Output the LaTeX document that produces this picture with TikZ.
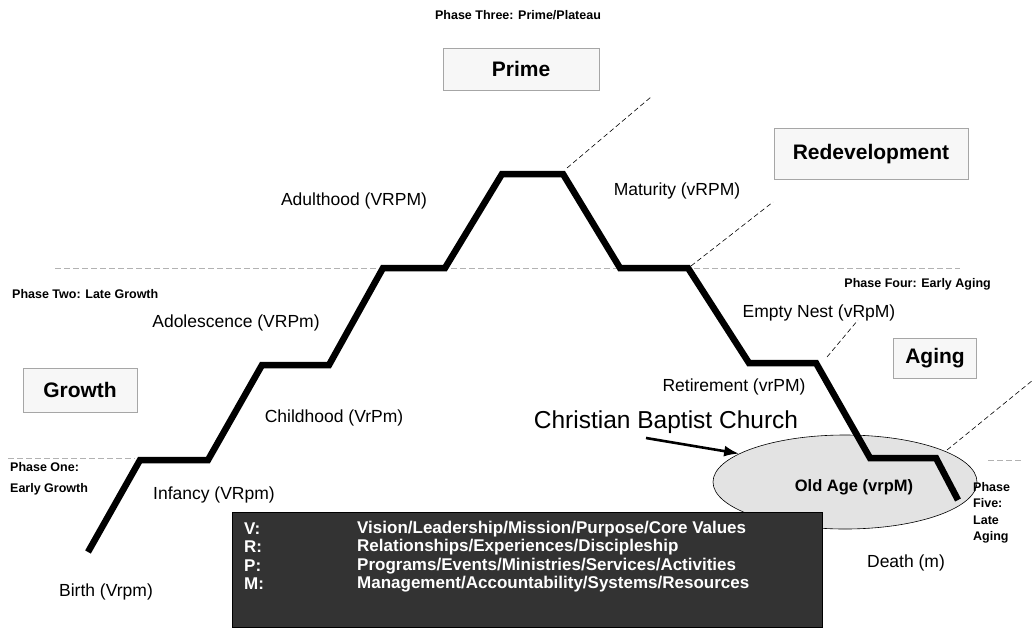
\documentclass[tikz,border=0pt]{standalone}
\usepackage{fontspec}
\setmainfont{Liberation Sans}
\usetikzlibrary{shapes.geometric,arrows.meta}
\tikzset{
 lbl/.style={font=\fontsize{17.5}{20}\selectfont, inner sep=0pt},
 phase/.style={font=\bfseries\fontsize{12.5}{16.5}\selectfont, inner sep=0pt, align=left},
 stagebox/.style={draw=gray!70, fill=gray!6, line width=0.7pt, inner sep=0pt, font=\bfseries\fontsize{21}{24}\selectfont},
 lifeline/.style={line width=6.5pt, line join=miter},
 guide/.style={dash pattern=on 5pt off 3pt, line width=0.6pt},
 sep/.style={gray!60, line width=0.8pt, dash pattern=on 6pt off 3pt},
 keytext/.style={text=white, inner sep=0pt, anchor=west, font=\bfseries\fontsize{17}{19}\selectfont}
}
\begin{document}
\begin{tikzpicture}[x=1pt,y=-1pt]
\useasboundingbox (0,0) rectangle (1035,627);
% separators
\coordinate (s1a) at (55,268); \coordinate (s1b) at (960,268);
\coordinate (s2a) at (8,458); \coordinate (s2b) at (135,458);
\coordinate (s3a) at (988,460); \coordinate (s3b) at (1022,460);
\draw[sep] (s1a) -- (s1b);
\draw[sep] (s2a) -- (s2b);
\draw[sep] (s3a) -- (s3b);
% ellipse
\node[ellipse, draw=black, line width=0.6pt, fill=gray!22, minimum width=264pt, minimum height=94pt, inner sep=0pt] (oldell) at (845,482) {};
% life curve
\coordinate (c0) at (88,552);
\coordinate (c1) at (140,460);
\coordinate (c2) at (208,460);
\coordinate (c3) at (262,365);
\coordinate (c4) at (329,365);
\coordinate (c5) at (383,268);
\coordinate (c6) at (445,268);
\coordinate (c7) at (502,174);
\coordinate (c8) at (563,174);
\coordinate (c9) at (620,268);
\coordinate (c10) at (688,268);
\coordinate (c11) at (749,363);
\coordinate (c12) at (816,363);
\coordinate (c13) at (870,458);
\coordinate (c14) at (936,458);
\coordinate (c15) at (958,500);
\draw[lifeline] (c0) -- (c1) -- (c2) -- (c3) -- (c4) -- (c5) -- (c6) -- (c7) -- (c8) -- (c9) -- (c10) -- (c11) -- (c12) -- (c13) -- (c14) -- (c15);
% dashed guides
\coordinate (g1) at (651,97);
\coordinate (g2) at (773,202);
\coordinate (g3) at (858,320);
\coordinate (g4) at (1033,380);
\coordinate (h1) at (567,168);
\coordinate (h2) at (691,266);
\coordinate (h3) at (827,357);
\coordinate (h4) at (947,450);
\draw[guide] (h1) -- (g1);
\draw[guide] (h2) -- (g2);
\draw[guide] (h3) -- (g3);
\draw[guide] (h4) -- (g4);
% stage boxes
\node[stagebox, minimum width=156pt, minimum height=42pt] (prime) at (521,69) {Prime};
\node[stagebox, minimum width=194pt, minimum height=51pt] (redev) at (871,154) {Redevelopment};
\node[stagebox, minimum width=114pt, minimum height=44pt] (growth) at (80,390) {Growth};
\node[stagebox, minimum width=83pt, minimum height=40pt] (aging) at (935,358) {Aging};
% phase labels
\node[phase] (ph3) at (518,15) {Phase Three: Prime/Plateau};
\node[phase, anchor=west] (ph2) at (12,294) {Phase Two: Late Growth};
\node[phase, anchor=north west, font=\bfseries\fontsize{12.5}{21}\selectfont] (ph1) at (10,462) {Phase One:\\Early Growth};
\node[phase, anchor=east] (ph4) at (991,284) {Phase Four: Early Aging};
\node[phase, anchor=north west] (ph5) at (973,482) {Phase\\Five:\\Late\\Aging};
% stage labels
\node[lbl] (adult) at (354,201) {Adulthood (VRPM)};
\node[lbl] (matur) at (677,191) {Maturity (vRPM)};
\node[lbl] (adol) at (236,323) {Adolescence (VRPm)};
\node[lbl] (child) at (334,418) {Childhood (VrPm)};
\node[lbl] (infan) at (214,495) {Infancy (VRpm)};
\node[lbl] (birth) at (106,592) {Birth (Vrpm)};
\node[lbl] (empty) at (819,313) {Empty Nest (vRpM)};
\node[lbl] (retir) at (734,387) {Retirement (vrPM)};
\node[lbl, font=\bfseries\fontsize{16.5}{20}\selectfont] (oldage) at (854,487) {Old Age (vrpM)};
\node[lbl] (death) at (906,563) {Death (m)};
\node[lbl, font=\fontsize{24.5}{28}\selectfont] (cbc) at (666,422) {Christian Baptist Church};
\coordinate (arrstart) at (646,438);
\draw[line width=2.6pt, -{Latex[length=15pt,width=11pt]}] (arrstart) -- (oldell.165);
% key box
\node[fill=black!80, draw=black, minimum width=590pt, minimum height=115pt, inner sep=0pt, anchor=north west] (keybox) at (232,512) {};
\node[keytext] (kv) at (244,529) {V:};
\node[keytext] (kr) at (244,547) {R:};
\node[keytext] (kp) at (244,566) {P:};
\node[keytext] (km) at (244,584) {M:};
\node[keytext] (tv) at (357,529) {Vision/Leadership/Mission/Purpose/Core Values};
\node[keytext] (tr) at (357,547) {Relationships/Experiences/Discipleship};
\node[keytext] (tp) at (357,566) {Programs/Events/Ministries/Services/Activities};
\node[keytext] (tm) at (357,584) {Management/Accountability/Systems/Resources};
\end{tikzpicture}
\end{document}
